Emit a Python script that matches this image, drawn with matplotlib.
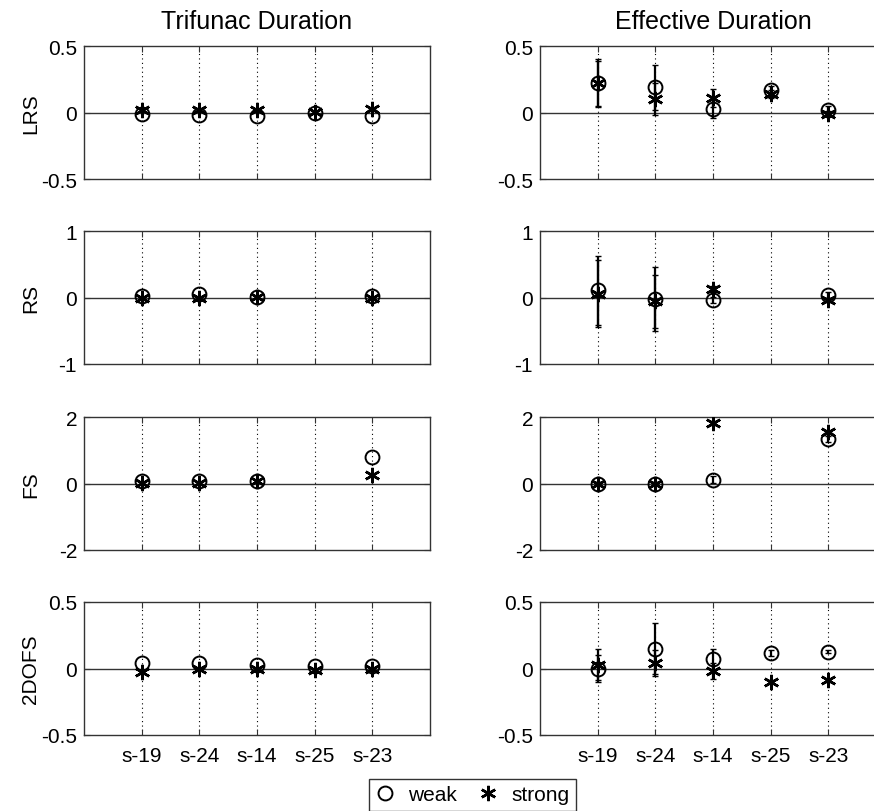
import numpy as np
import matplotlib
matplotlib.use("Agg")
import matplotlib.pyplot as plt
from matplotlib.lines import Line2D

plt.rcParams.update({"font.family": ["Liberation Sans", "DejaVu Sans"], "font.size": 15})

stations = ["s-19", "s-24", "s-14", "s-25", "s-23"]
measures = ["LRS", "RS", "FS", "2DOFS"]
ylims = [0.5, 1, 2, 0.5]
nan = np.nan

# Trifunac duration (left column), rows = LRS, RS, FS, 2DOFS
tri_weak = [[-0.01, -0.02, -0.03, -0.005, -0.03],
            [0.02, 0.06, 0.01, nan, 0.02],
            [0.08, 0.08, 0.08, nan, 0.80],
            [0.04, 0.04, 0.026, 0.02, 0.02]]
tri_strong = [[0.02, 0.02, 0.02, 0.005, 0.03],
              [0.0, 0.0, 0.01, nan, 0.0],
              [0.03, 0.03, 0.08, nan, 0.27],
              [-0.03, 0.0, 0.0, -0.01, 0.0]]

# Effective duration (right column)
eff_weak = [[0.22, 0.19, 0.03, 0.17, 0.02],
            [0.11, -0.02, -0.04, nan, 0.04],
            [0.0, 0.0, 0.12, nan, 1.34],
            [0.0, 0.15, 0.07, 0.117, 0.126]]
eff_weak_err = [[0.18, 0.17, 0.07, 0.03, 0.03],
                [0.52, 0.48, 0.05, nan, 0.04],
                [0.05, 0.05, 0.10, nan, 0.10],
                [0.10, 0.19, 0.08, 0.02, 0.01]]
eff_strong = [[0.22, 0.10, 0.11, 0.14, -0.01],
              [0.06, -0.06, 0.13, nan, -0.04],
              [0.0, 0.0, 1.82, nan, 1.54],
              [0.03, 0.04, -0.02, -0.10, -0.09]]
eff_strong_err = [[0.17, 0.12, 0.07, 0.03, 0.02],
                  [0.50, 0.40, 0.04, nan, 0.03],
                  [0.05, 0.05, 0.05, nan, 0.05],
                  [0.12, 0.10, 0.06, 0.01, 0.01]]

W, H = 874, 812
fig = plt.figure(figsize=(W / 100, H / 100), dpi=100)
lefts = [84, 540]
tops = [47, 232, 418, 603]
aw, ah = 346, 133
x = np.arange(1, len(stations) + 1)
EDGE = "#333333"
STAR = (6, 2, 0)

for c in range(2):
    for r in range(4):
        ax = fig.add_axes([lefts[c] / W, 1 - (tops[r] + ah) / H, aw / W, ah / H])
        if c == 0:
            wv, sv = tri_weak[r], tri_strong[r]
            we = se = None
        else:
            wv, sv = eff_weak[r], eff_strong[r]
            we, se = eff_weak_err[r], eff_strong_err[r]
        for xi in x:
            ax.axvline(xi, color="k", ls=(0, (1, 3)), lw=0.8, zorder=1)
        ax.axhline(0, color=EDGE, lw=1.0, zorder=1)
        ax.errorbar(x, wv, yerr=we, fmt="none", ecolor="k", elinewidth=1.6, capsize=2, zorder=3)
        ax.errorbar(x, sv, yerr=se, fmt="none", ecolor="k", elinewidth=1.6, capsize=2, zorder=3)
        ax.plot(x, wv, ls="none", marker="o", mfc="none", mec="k", mew=1.4, ms=10, zorder=4)
        ax.plot(x, sv, ls="none", marker=STAR, color="k", mew=1.8, ms=11, zorder=4)
        yl = ylims[r]
        ax.set_ylim(-yl, yl)
        ax.set_yticks([-yl, 0, yl])
        ax.set_yticklabels([f"{-yl:g}", "0", f"{yl:g}"])
        ax.set_xlim(0, 6)
        ax.set_xticks(x)
        if r == 3:
            ax.set_xticklabels(stations)
        else:
            ax.set_xticklabels([])
        ax.tick_params(direction="in", length=4, top=True, right=True, color=EDGE, pad=5)
        ax.tick_params(axis="x", pad=8)
        for s in ax.spines.values():
            s.set_color(EDGE); s.set_linewidth(1.0)
        if c == 0:
            ax.set_ylabel(measures[r])
            ax.yaxis.set_label_coords(-0.127, 0.5)
        if r == 0:
            ax.set_title(["Trifunac Duration", "Effective Duration"][c], pad=13)

handles = [Line2D([], [], marker="o", mfc="none", mec="k", mew=1.4, ms=10, ls="none"),
           Line2D([], [], marker=STAR, color="k", mew=1.8, ms=11, ls="none")]
leg = fig.legend(handles, ["weak", "strong"], loc="center", ncol=2,
                 bbox_to_anchor=(472 / W, 1 - 796 / H), frameon=True, fancybox=False,
                 handlelength=1.0, handletextpad=0.6, columnspacing=1.0, borderpad=0.3)
leg.get_frame().set_edgecolor("k")
leg.get_frame().set_linewidth(1.0)

fig.savefig("out.png", dpi=100)
